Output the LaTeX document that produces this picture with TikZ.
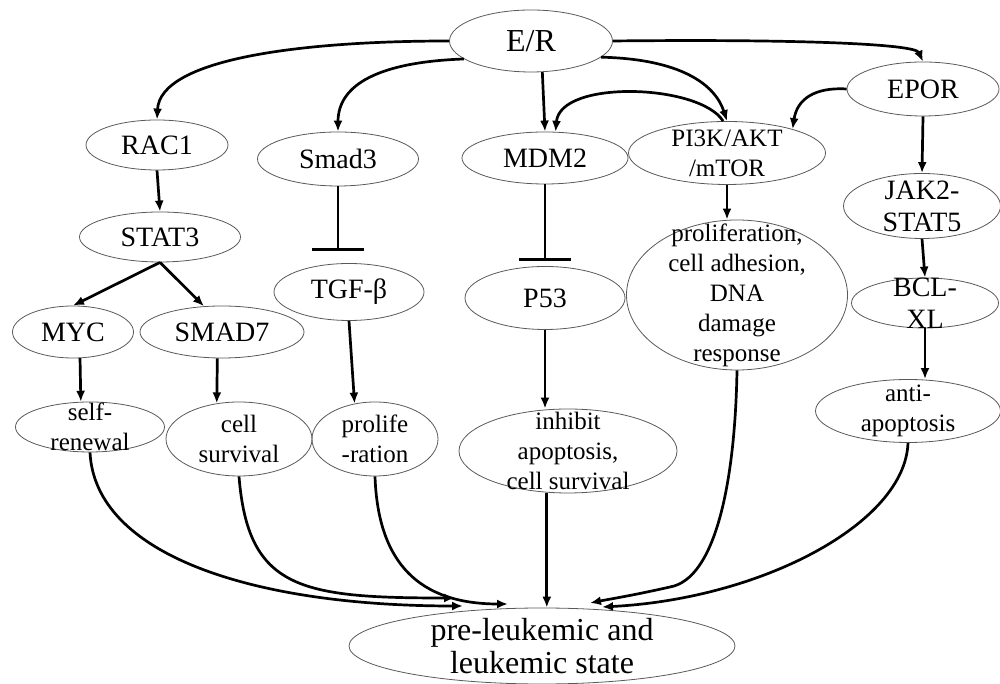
\documentclass[tikz,border=0pt]{standalone}
\usepackage{fontspec}
\setmainfont{Liberation Serif}
\usetikzlibrary{shapes.geometric,arrows.meta}
\tikzset{
  ell/.style 2 args={ellipse, draw=black!65, line width=0.8pt, minimum width=#1pt, minimum height=#2pt, inner sep=0pt},
  huge/.style={align=center, font=\fontsize{32}{33}\selectfont},
  big/.style={align=center, font=\fontsize{28}{32}\selectfont},
  small/.style={align=center, font=\fontsize{25}{30}\selectfont},
  act/.style={line width=2.7pt, -{Latex[length=11pt,width=9pt]}},
  inh/.style={line width=2.7pt, -{Bar[width=52pt,line width=3.2pt]}},
}
\begin{document}
\begin{tikzpicture}[x=1pt,y=1pt]
\useasboundingbox (0,0) rectangle (1000,684);
\node[ell={163}{62}, label={[huge]center:E/R}] (er) at (531,643) {};
\node[ell={142}{50}, label={[big]center:RAC1}] (rac1) at (157,539) {};
\node[ell={161}{54}, label={[big]center:Smad3}] (smad3) at (338,525) {};
\node[ell={161}{50}, label={[big]center:STAT3}] (stat3) at (160,447) {};
\node[ell={121}{52}, label={[big]center:MYC}] (myc) at (73,352) {};
\node[ell={164}{52}, label={[big]center:SMAD7}] (smad7) at (222,352) {};
\node[ell={150}{57}, label={[big]center:TGF-β}] (tgf) at (349,392) {};
\node[ell={166}{52}, label={[big]center:MDM2}] (mdm2) at (545,526) {};
\node[ell={197}{63}, label={[small]center:{PI3K/AKT\\/mTOR}}] (pi3k) at (727,531) {};
\node[ell={152}{54}, label={[big]center:EPOR}] (epor) at (923,595) {};
\node[ell={160}{63}, label={[big]center:P53}] (p53) at (545,386) {};
\node[ell={221}{150}, label={[small]center:{proliferation,\\cell adhesion,\\DNA\\damage\\response}}] (prolif) at (737,389) {};
\node[ell={157}{65}, label={[big]center:{JAK2-\\STAT5}}] (jak) at (922,478) {};
\node[ell={147}{50}, label={[big]center:{BCL-\\XL}}] (bcl) at (925,381) {};
\node[ell={185}{63}, label={[small]center:{anti-\\apoptosis}}] (anti) at (908,273) {};
\node[ell={149}{50}, label={[small]center:{self-\\renewal}}] (selfr) at (90,257) {};
\node[ell={146}{74}, label={[small]center:{cell\\survival}}] (cellsurv) at (239,245) {};
\node[ell={126}{74}, label={[small]center:{prolife\\-ration}}] (prolife) at (375,245) {};
\node[ell={218}{84}, label={[small]center:{inhibit\\apoptosis,\\cell survival}}] (inhibit) at (568,233) {};
\node[ell={386}{76}, label={[huge]center:{pre-leukemic and\\leukemic state}}] (pre) at (542,38) {};
\coordinate (t1) at (463,78);
\coordinate (t2) at (455,86);
\coordinate (t3) at (508,80);
\coordinate (t5) at (590,81);
\coordinate (t6) at (602,77);
\draw[act] (er.west) .. controls (300,643) and (160,625) .. (rac1.north);
\draw[act] (er.195) .. controls (380,622) and (338,600) .. (smad3.north);
\draw[act] (er.290) -- (mdm2.north);
\draw[act] (er.347) .. controls (680,625) and (715,600) .. (pi3k.north);
\draw[act] (er.east) .. controls (800,645) and (915,640) .. (epor.north);
\draw[act] (pi3k.97) .. controls (700,600) and (560,605) .. (mdm2.68);
\draw[act] (epor.west) .. controls (815,597) and (797,585) .. (pi3k.20);
\draw[act] (epor.south) -- (jak.north);
\draw[act] (jak.south) -- (bcl.north);
\draw[act] (bcl.south) -- (bcl.south |- anti.north);
\draw[act] (rac1.south) -- (stat3.north);
\draw[act] (stat3.south) -- (myc.north);
\draw[act] (stat3.south) -- (smad7.125);
\draw[inh, shorten >=12pt] (smad3.south) -- (smad3.south |- tgf.north);
\draw[act] (tgf.south) -- (prolife.120);
\draw[act] (myc.285) -- (selfr.110);
\draw[act] (smad7.260) -- (cellsurv.122);
\draw[inh, shorten >=5pt] (mdm2.south) -- (mdm2.south |- p53.north);
\draw[act] (p53.south) -- (p53.south |- inhibit.north);
\draw[act] (pi3k.south) -- (pi3k.south |- prolif.north);
\draw[act] (inhibit.243) -- (inhibit.243 |- pre.north);
\draw[act] (selfr.south) .. controls (95,130) and (250,78) .. (t1);
\draw[act] (cellsurv.south) .. controls (248,95) and (300,86) .. (t2);
\draw[act] (prolife.south) .. controls (378,120) and (420,80) .. (t3);
\draw[act] (prolif.south) .. controls (735,200) and (715,105) .. (670,97) .. controls (630,88) and (610,85) .. (t5);
\draw[act] (anti.south) .. controls (905,160) and (760,85) .. (t6);
\end{tikzpicture}
\end{document}
